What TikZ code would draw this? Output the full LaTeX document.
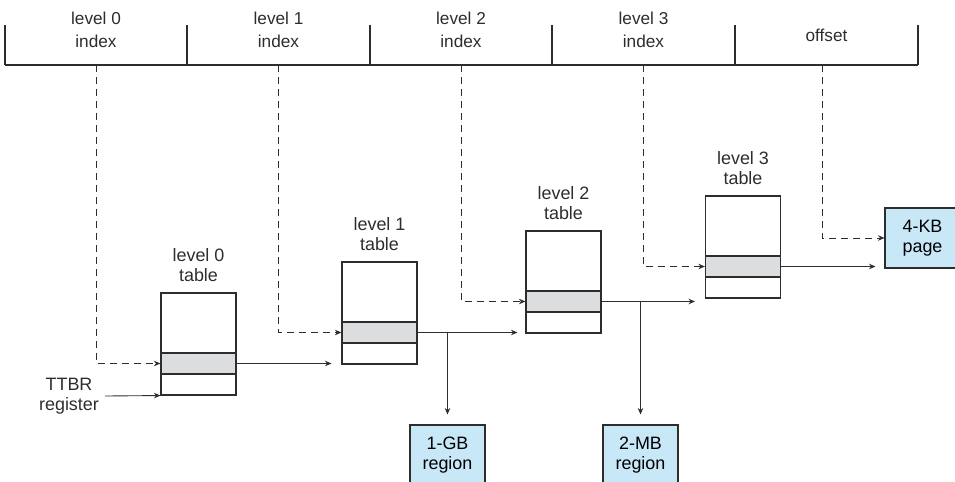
\documentclass[tikz,border=0pt]{standalone}
\usepackage{fontspec}
\setmainfont{Liberation Sans}
\usepackage{tikz}
\usetikzlibrary{arrows.meta,positioning}
\usepackage{xcolor}
\definecolor{bandgray}{RGB}{220,221,222}
\definecolor{pageblue}{RGB}{200,232,248}
\definecolor{inkgray}{RGB}{45,45,45}

\begin{document}
\begin{tikzpicture}[
    x=0.2mm, y=-0.2mm,
    lbl/.style={align=center, font=\fontsize{10.2}{11.6}\selectfont, text=inkgray},
    field/.style={align=center, font=\fontsize{9.8}{13.4}\selectfont, text=inkgray},
    tbl/.style={draw=inkgray, line width=0.6pt, fill=white,
                minimum width=15mm, minimum height=20.4mm, inner sep=0pt},
    entry/.style={draw=inkgray, line width=0.7pt, fill=bandgray,
                  minimum width=15mm, minimum height=4.2mm, inner sep=0pt},
    region/.style={draw=inkgray, line width=0.6pt, fill=pageblue, align=center,
                   minimum width=15mm, minimum height=12mm, inner sep=0pt,
                   font=\fontsize{10.2}{11.6}\selectfont},
    arr/.style={-{Stealth[length=1.3mm,width=1.1mm]}, line width=0.5pt, inkgray},
    idxarr/.style={-{Stealth[length=1.3mm,width=1.1mm]}, line width=0.5pt, inkgray,
                 dash pattern=on 1.4mm off 1mm}
  ]
  \useasboundingbox (0,0) rectangle (955,481);
  \clip (0,0) rectangle (955,481);
  % Virtual address fields
  \coordinate (bar) at (0,65);
  \draw[line width=0.6pt, inkgray] (5,65) -- (918,65);
  \foreach \x in {5,187,370,552,735,918}
    \draw[line width=0.6pt, inkgray] (\x,25) -- (\x,65);
  \node[field] (f0) at (96,30)    {level 0\\index};
  \node[field] (f1) at (278.5,30) {level 1\\index};
  \node[field] (f2) at (461,30)   {level 2\\index};
  \node[field] (f3) at (643.5,30) {level 3\\index};
  \node[field] (f4) at (826.5,35) {offset};
  % Page tables
  \foreach \i/\x/\y in {0/198.5/293, 1/379.5/262, 2/563.5/231, 3/743/196} {
    \node[tbl] (t\i) at (\x,\y+51) {};
    \node[entry] (e\i) at (\x,\y+70.5) {};
    \node[lbl, above=0.9mm of t\i] (l\i) {level \i\\table};
  }
  % Final regions
  \node[region] (gb) at (447.5,455) {1-GB\\region};
  \node[region] (mb) at (640.5,455) {2-MB\\region};
  \node[region] (pg) at (922.5,238) {4-KB\\page};
  % TTBR register
  \node[lbl] (ttbr) at (69,396) {TTBR\\register};
  \draw[arr] (ttbr.east) -- (t0.south west);
  % Index lookups
  \foreach \i in {0,1,2,3}
    \draw[idxarr] (f\i |- bar) |- (e\i.west);
  \draw[idxarr] ([xshift=-0.9mm]f4 |- bar) |- (pg.west);
  % Table walk
  \draw[arr, shorten >=2mm] (e0.east) -- (e0.east -| t1.west);
  \draw[arr, shorten >=1.6mm] (e1.east) -- (e1.east -| t2.west);
  \draw[arr, shorten >=2mm] (e2.east) -- (e2.east -| t3.west);
  \draw[arr, shorten >=1.8mm] (e3.east) -- (e3.east -| pg.west);
  \draw[arr, shorten >=2mm] (gb.north |- e1.east) -- (gb.north);
  \draw[arr, shorten >=2mm] (mb.north |- e2.east) -- (mb.north);
\end{tikzpicture}
\end{document}
